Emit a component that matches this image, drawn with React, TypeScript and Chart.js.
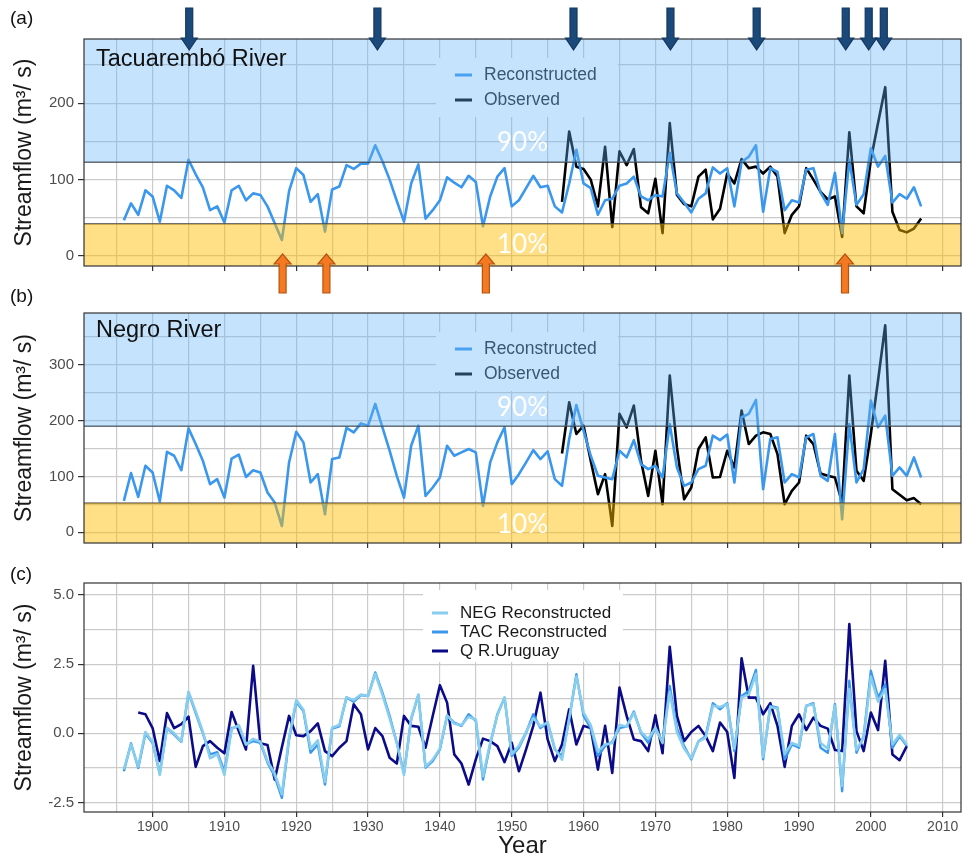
import React, { useEffect, useRef } from 'react';
import { Chart, registerables } from 'chart.js';

Chart.register(...registerables);

// ---------------- data ----------------
const RECON_START = 1896; // panels (a) and (b) reconstructions, 1896-2007
const OBS_START = 1957; // observed series, 1957-2007
const STD_START = 1896; // panel (c) standardized reconstructions, 1896-2005
const QURU_START = 1898; // Q R.Uruguay, 1898-2005

const TAC_RECON = [
  47, 69, 54, 86, 78, 45, 92, 86, 76, 126, // 1896-1905
  107, 90, 60, 65, 44, 86, 92, 73, 82, 80, // 1906-1915
  65, 43, 21, 85, 115, 106, 71, 81, 32, 87, // 1916-1925
  91, 119, 114, 121, 121, 145, 124, 100, 72, 45, // 1926-1935
  95, 120, 49, 60, 73, 103, 96, 90, 105, 97, // 1936-1945
  39, 78, 104, 115, 65, 73, 89, 105, 90, 92, // 1946-1955
  65, 57, 95, 139, 95, 89, 54, 73, 75, 92, // 1956-1965
  95, 104, 78, 73, 80, 78, 135, 82, 70, 57, // 1966-1975
  75, 82, 116, 108, 115, 65, 123, 130, 145, 58, // 1976-1985
  115, 110, 60, 73, 70, 113, 115, 83, 67, 109, // 1986-1995
  30, 126, 67, 81, 141, 117, 131, 70, 81, 75, // 1996-2005
  90, 65, // 2006-2007
];

const TAC_OBS = [
  71, 163, 117, 114, 100, 65, 143, 38, 137, 119, // 1957-1966
  140, 64, 56, 101, 30, 174, 80, 68, 65, 104, // 1967-1976
  113, 48, 62, 108, 95, 127, 115, 117, 108, 117, // 1977-1986
  104, 30, 54, 65, 115, 100, 84, 74, 78, 25, // 1987-1996
  162, 65, 56, 126, 174, 221, 58, 34, 31, 36, // 1997-2006
  49, // 2007
];

const NEG_RECON = [
  56, 106, 63, 119, 107, 55, 144, 137, 111, 186, // 1896-1905
  158, 128, 86, 95, 62, 132, 139, 99, 111, 107, // 1906-1915
  71, 53, 11, 125, 180, 161, 89, 104, 32, 131, // 1916-1925
  134, 187, 179, 195, 191, 230, 188, 146, 101, 62, // 1926-1935
  155, 191, 65, 80, 98, 155, 137, 143, 149, 143, // 1936-1945
  47, 125, 161, 188, 86, 104, 125, 147, 131, 145, // 1946-1955
  95, 83, 167, 228, 182, 137, 101, 98, 95, 146, // 1956-1965
  134, 165, 122, 113, 119, 98, 194, 116, 83, 89, // 1966-1975
  113, 119, 173, 165, 175, 89, 206, 212, 237, 77, // 1976-1985
  167, 170, 89, 104, 98, 170, 176, 101, 92, 176, // 1986-1995
  23, 194, 89, 113, 236, 188, 209, 101, 116, 101, // 1996-2005
  134, 98, // 2006-2007
];

const NEG_OBS = [
  141, 233, 176, 191, 128, 68, 104, 11, 212, 188, // 1957-1966
  227, 128, 65, 146, 50, 281, 152, 59, 80, 149, // 1967-1976
  170, 98, 99, 146, 116, 218, 158, 173, 179, 176, // 1977-1986
  140, 50, 74, 89, 173, 158, 105, 101, 98, 53, // 1987-1996
  281, 110, 92, 176, 272, 371, 77, 67, 57, 61, // 1997-2006
  50, // 2007
];

const NEG_STD = [
  -1.3, -0.4, -1.2, 0.05, -0.3, -1.5, 0.2, 0.0, -0.3, 1.5, // 1896-1905
  0.8, 0.05, -0.9, -0.75, -1.5, 0.15, 0.3, -0.4, -0.2, -0.3, // 1906-1915
  -1.0, -1.45, -2.2, -0.15, 1.2, 0.85, -0.55, -0.25, -1.75, 0.2, // 1916-1925
  0.3, 1.3, 1.2, 1.4, 1.35, 2.15, 1.4, 0.55, -0.35, -1.5, // 1926-1935
  0.55, 1.4, -1.2, -0.95, -0.55, 0.65, 0.35, 0.3, 0.6, 0.5, // 1936-1945
  -1.55, -0.35, 0.65, 1.3, -0.75, -0.45, 0.05, 0.55, 0.25, 0.4, // 1946-1955
  -0.55, -0.95, 0.55, 2.05, 0.75, 0.3, -0.65, -0.4, -0.35, 0.3, // 1956-1965
  0.25, 0.75, 0.05, -0.2, 0.2, -0.35, 1.5, 0.05, -0.55, -0.9, // 1966-1975
  -0.3, -0.15, 1.0, 0.95, 1.05, -0.55, 1.3, 1.4, 2.15, -0.85, // 1976-1985
  0.95, 0.9, -0.75, -0.35, -0.45, 1.0, 1.05, -0.35, -0.55, 1.0, // 1986-1995
  -1.9, 1.6, -0.6, -0.15, 2.05, 1.15, 1.6, -0.4, -0.05, -0.4, // 1996-2005
];

const TAC_STD = [
  -1.37, -0.36, -1.25, -0.01, -0.35, -1.43, 0.19, -0.05, -0.31, 1.47, // 1896-1905
  0.73, 0.0, -0.76, -0.68, -1.37, 0.19, 0.25, -0.4, -0.28, -0.34, // 1906-1915
  -1.06, -1.55, -2.33, -0.22, 1.13, 0.81, -0.7, -0.4, -1.85, 0.17, // 1916-1925
  0.25, 1.3, 1.14, 1.38, 1.35, 2.2, 1.47, 0.63, -0.34, -1.43, // 1926-1935
  0.51, 1.38, -1.24, -1.0, -0.58, 0.63, 0.39, 0.27, 0.69, 0.45, // 1936-1945
  -1.67, -0.4, 0.69, 1.29, -0.82, -0.52, 0.02, 0.69, 0.19, 0.39, // 1946-1955
  -0.58, -0.82, 0.51, 2.14, 0.63, 0.19, -0.82, -0.46, -0.3, 0.19, // 1956-1965
  0.25, 0.79, 0.02, -0.34, 0.19, -0.3, 1.71, 0.19, -0.46, -0.94, // 1966-1975
  -0.28, -0.1, 1.09, 0.87, 1.09, -0.64, 1.35, 1.53, 2.29, -0.94, // 1976-1985
  0.99, 0.93, -0.94, -0.4, -0.52, 0.99, 1.09, -0.52, -0.7, 1.05, // 1986-1995
  -2.09, 1.9, -0.7, -0.1, 2.26, 1.29, 1.77, -0.52, -0.1, -0.46, // 1996-2005
];

const Q_URUGUAY = [
  0.75, 0.69, 0.19, -1.0, 0.73, 0.19, 0.33, 0.6, -1.21, -0.46, // 1898-1907
  -0.28, -0.52, -0.72, 0.77, 0.08, -0.58, 2.44, -0.36, -0.42, -1.67, // 1908-1917
  -0.5, 0.63, -0.07, -0.1, 0.08, 0.36, -0.64, -0.82, -0.52, -0.28, // 1918-1927
  1.05, 0.69, -0.58, 0.19, -0.1, -0.88, -1.09, 0.63, 0.27, 0.24, // 1928-1937
  -0.52, 0.63, 1.74, 1.11, -0.76, -1.09, -1.85, -0.94, -0.19, -0.28, // 1938-1947
  -0.46, -1.04, -0.34, -1.37, -0.58, 0.27, 1.47, -0.22, -1.0, -0.4, // 1948-1957
  0.87, -0.4, 0.27, 0.19, -1.31, 0.27, -1.43, 1.65, 0.63, -0.22, // 1958-1967
  -0.28, -0.64, 0.65, -0.72, 3.13, 0.63, -0.28, 0.05, 0.27, -0.1, // 1968-1977
  -0.64, 0.39, 0.05, -1.61, 2.71, 1.29, 1.29, 0.69, 1.09, 0.27, // 1978-1987
  -1.21, 0.27, 0.69, 0.12, 0.57, 0.27, 0.17, -0.6, -0.64, 3.95, // 1988-1997
  0.08, -0.64, 0.75, 0.12, 2.62, -0.76, -0.97, -0.46, // 1998-2005
];

// thresholds (percentiles) per river
const TAC_P90 = 123;
const TAC_P10 = 42;
const NEG_P90 = 190;
const NEG_P10 = 52;

// annotation arrows (years)
const FLOOD_ARROW_YEARS = [1905.1, 1931.3, 1958.6, 1972.1, 1984.1, 1996.5, 1999.7, 2001.8];
const DROUGHT_ARROW_YEARS = [1918.1, 1924.2, 1946.4, 1996.4];
const PCT_LABEL_YEAR = 1951.5;

// axes
const X_MIN = 1890.45;
const X_MAX = 2012.55;
const X_GRID_YEARS = [1895, 1900, 1905, 1910, 1915, 1920, 1925, 1930, 1935, 1940, 1945, 1950, 1955, 1960, 1965, 1970, 1975, 1980, 1985, 1990, 1995, 2000, 2005, 2010];
const X_LABEL_YEARS = [1900, 1910, 1920, 1930, 1940, 1950, 1960, 1970, 1980, 1990, 2000, 2010];

const A_Y_GRID = [0, 50, 100, 150, 200, 250];
const A_Y_LABELS = [0, 100, 200];
const B_Y_GRID = [0, 50, 100, 150, 200, 250, 300, 350];
const B_Y_LABELS = [0, 100, 200, 300];
const C_Y_GRID = [-2.5, -1.25, 0, 1.25, 2.5, 3.75, 5];
const C_Y_LABELS = [-2.5, 0, 2.5, 5];

// ---------------- styles ----------------
const FONT = '"Liberation Sans", Arial, Helvetica, sans-serif';
const PCT_FONT = 'Lato, "Open Sans", sans-serif';
const GRID_COLOR = '#cbcbcb';
const AXIS_COLOR = '#333333';
const TICK_LABEL_COLOR = '#4d4d4d';
const RECON_COLOR = '#3a97ee';
const OBS_COLOR = '#000000';
const NEG_STD_COLOR = '#86cdee';
const TAC_STD_COLOR = '#3a97ee';
const QURU_COLOR = '#0b0b8a';
const BLUE_BAND = 'rgba(100,180,250,0.37)';
const ORANGE_BAND = 'rgba(255,190,0,0.47)';
const W = 966;
const Y_AXIS_W = 84;
const RIGHT_PAD = 5;

const toXY = (start: number, vals: number[]) => vals.map((v, i) => ({ x: start + i, y: v }));

function drawText(ctx: CanvasRenderingContext2D, s: string, x: number, y: number, font: string, color: string, align: CanvasTextAlign = 'left', baseline: CanvasTextBaseline = 'middle') {
  ctx.font = font;
  ctx.fillStyle = color;
  ctx.textAlign = align;
  ctx.textBaseline = baseline;
  ctx.fillText(s, x, y);
}

function arrow(ctx: CanvasRenderingContext2D, x: number, yTail: number, yHeadBase: number, yTip: number, shaftHalf: number, headHalf: number, fill: string, stroke: string) {
  ctx.beginPath();
  ctx.moveTo(x - shaftHalf, yTail);
  ctx.lineTo(x + shaftHalf, yTail);
  ctx.lineTo(x + shaftHalf, yHeadBase);
  ctx.lineTo(x + headHalf, yHeadBase);
  ctx.lineTo(x, yTip);
  ctx.lineTo(x - headHalf, yHeadBase);
  ctx.lineTo(x - shaftHalf, yHeadBase);
  ctx.closePath();
  ctx.fillStyle = fill;
  ctx.fill();
  ctx.lineWidth = 1.2;
  ctx.strokeStyle = stroke;
  ctx.stroke();
}

function xScale(showLabels: boolean, axisH: number) {
  return {
    type: 'linear',
    min: X_MIN,
    max: X_MAX,
    afterBuildTicks: (s: any) => {
      s.ticks = X_GRID_YEARS.map((v) => ({ value: v }));
    },
    afterFit: (s: any) => {
      s.height = axisH;
    },
    ticks: {
      display: showLabels,
      autoSkip: false,
      maxRotation: 0,
      minRotation: 0,
      padding: 2,
      font: { family: FONT, size: 14 },
      color: TICK_LABEL_COLOR,
      callback: (v: number) => (X_LABEL_YEARS.includes(v) ? String(v) : ''),
    },
    grid: {
      color: GRID_COLOR,
      lineWidth: 1.2,
      drawTicks: true,
      tickLength: 5,
      tickWidth: 1.2,
      tickColor: (c: any) => (c.tick && X_LABEL_YEARS.includes(c.tick.value) ? AXIS_COLOR : 'rgba(0,0,0,0)'),
    },
    border: { display: false },
    title: {
      display: showLabels,
      text: 'Year',
      font: { family: FONT, size: 24 },
      color: '#1a1a1a',
      padding: { top: 0, bottom: -2 },
    },
  };
}

function yScale(min: number, max: number, grid: number[], labels: number[], fmt: (v: number) => string) {
  return {
    min,
    max,
    afterBuildTicks: (s: any) => {
      s.ticks = grid.map((v) => ({ value: v }));
    },
    afterFit: (s: any) => {
      s.width = Y_AXIS_W;
    },
    ticks: {
      autoSkip: false,
      padding: 4,
      font: { family: FONT, size: 15 },
      color: TICK_LABEL_COLOR,
      callback: (v: number) => (labels.includes(v) ? fmt(v) : ''),
    },
    grid: {
      color: GRID_COLOR,
      lineWidth: 1.2,
      tickLength: 6,
      tickWidth: 1.2,
      tickColor: (c: any) => (c.tick && labels.includes(c.tick.value) ? AXIS_COLOR : 'rgba(0,0,0,0)'),
    },
    border: { display: false },
    title: {
      display: true,
      text: 'Streamflow (m³/ s)',
      font: { family: FONT, size: 23 },
      color: '#1a1a1a',
      padding: { top: 11, bottom: 0 },
    },
  };
}

type BandSpec = {
  letter: string;
  letterY: number;
  name: string;
  nameY: number;
  recon: number[];
  obs: number[];
  p90: number;
  p10: number;
  yMin: number;
  yMax: number;
  yGrid: number[];
  yLabels: number[];
  padTop: number;
  xAxisH: number;
  arrows: boolean;
};

function bandConfig(spec: BandSpec) {
  const plugin = {
    id: 'bands',
    afterDatasetsDraw(chart: any) {
      const { ctx, chartArea: a, scales } = chart;
      const y = scales.y;
      const x = scales.x;
      const y90 = y.getPixelForValue(spec.p90);
      const y10 = y.getPixelForValue(spec.p10);
      ctx.save();
      // legend (under the translucent band)
      ctx.fillStyle = '#ffffff';
      ctx.fillRect(436, a.top + 19, 182, 59);
      const lx = 455;
      const rows = [
        { label: 'Reconstructed', color: RECON_COLOR, yy: a.top + 36 },
        { label: 'Observed', color: OBS_COLOR, yy: a.top + 61 },
      ];
      for (const r of rows) {
        ctx.beginPath();
        ctx.moveTo(lx, r.yy);
        ctx.lineTo(lx + 17, r.yy);
        ctx.strokeStyle = r.color;
        ctx.lineWidth = 3;
        ctx.stroke();
        drawText(ctx, r.label, lx + 29, r.yy, `17.5px ${FONT}`, '#222222');
      }
      // percentile lines
      ctx.strokeStyle = '#3c3c3c';
      ctx.lineWidth = 1.3;
      for (const yy of [y90, y10]) {
        ctx.beginPath();
        ctx.moveTo(a.left, yy);
        ctx.lineTo(a.right, yy);
        ctx.stroke();
      }
      // bands
      ctx.fillStyle = BLUE_BAND;
      ctx.fillRect(a.left, a.top, a.right - a.left, y90 - a.top);
      ctx.fillStyle = ORANGE_BAND;
      ctx.fillRect(a.left, y10, a.right - a.left, a.bottom - y10);
      // labels
      const px = x.getPixelForValue(PCT_LABEL_YEAR);
      drawText(ctx, '90%', px, y90 - 19, `26px ${PCT_FONT}`, '#ffffff', 'center');
      drawText(ctx, '10%', px, y10 + 21, `26px ${PCT_FONT}`, '#ffffff', 'center');
      ctx.restore();
    },
    afterDraw(chart: any) {
      const { ctx, chartArea: a, scales } = chart;
      ctx.save();
      ctx.strokeStyle = AXIS_COLOR;
      ctx.lineWidth = 1.2;
      ctx.strokeRect(a.left, a.top, a.right - a.left, a.bottom - a.top);
      drawText(ctx, spec.name, 96, a.top + spec.nameY, `23.5px ${FONT}`, '#111111');
      drawText(ctx, spec.letter, 10, spec.letterY, `19px ${FONT}`, '#111111');
      if (spec.arrows) {
        const x = scales.x;
        for (const yr of FLOOD_ARROW_YEARS) {
          arrow(ctx, x.getPixelForValue(yr), 8, 38, 50, 3.5, 8, '#1b4a7a', '#12375e');
        }
        for (const yr of DROUGHT_ARROW_YEARS) {
          arrow(ctx, x.getPixelForValue(yr), 293, 264, 254, 3.5, 8.5, '#f47a22', '#b8520f');
        }
      }
      ctx.restore();
    },
  };
  return {
    type: 'line',
    data: {
      datasets: [
        { data: toXY(RECON_START, spec.recon), borderColor: RECON_COLOR, borderWidth: 2.6, pointRadius: 0, borderJoinStyle: 'round' },
        { data: toXY(OBS_START, spec.obs), borderColor: OBS_COLOR, borderWidth: 2.6, pointRadius: 0, borderJoinStyle: 'round' },
      ],
    },
    options: {
      responsive: false,
      animation: false,
      devicePixelRatio: 1,
      layout: { padding: { top: spec.padTop, right: RIGHT_PAD, left: 0, bottom: 0 } },
      plugins: { legend: { display: false }, tooltip: { enabled: false } },
      scales: {
        x: xScale(false, spec.xAxisH),
        y: yScale(spec.yMin, spec.yMax, spec.yGrid, spec.yLabels, (v) => String(v)),
      },
    },
    plugins: [plugin],
  };
}

function configC() {
  const plugin = {
    id: 'panelC',
    afterDatasetsDraw(chart: any) {
      const { ctx, chartArea: a } = chart;
      ctx.save();
      ctx.fillStyle = '#ffffff';
      ctx.fillRect(423, a.top + 7, 200, 72);
      const lx = 432;
      const rows = [
        { label: 'NEG Reconstructed', color: NEG_STD_COLOR, yy: a.top + 30 },
        { label: 'TAC Reconstructed', color: TAC_STD_COLOR, yy: a.top + 49 },
        { label: 'Q R.Uruguay', color: QURU_COLOR, yy: a.top + 68 },
      ];
      for (const r of rows) {
        ctx.beginPath();
        ctx.moveTo(lx, r.yy);
        ctx.lineTo(lx + 16, r.yy);
        ctx.strokeStyle = r.color;
        ctx.lineWidth = 3;
        ctx.stroke();
        drawText(ctx, r.label, lx + 28, r.yy, `17px ${FONT}`, '#1a1a1a');
      }
      ctx.restore();
    },
    afterDraw(chart: any) {
      const { ctx, chartArea: a } = chart;
      ctx.save();
      ctx.strokeStyle = AXIS_COLOR;
      ctx.lineWidth = 1.2;
      ctx.strokeRect(a.left, a.top, a.right - a.left, a.bottom - a.top);
      drawText(ctx, '(c)', 10, 15, `19px ${FONT}`, '#111111');
      ctx.restore();
    },
  };
  return {
    type: 'line',
    data: {
      datasets: [
        { data: toXY(STD_START, NEG_STD), borderColor: NEG_STD_COLOR, borderWidth: 2.6, pointRadius: 0, borderJoinStyle: 'round' },
        { data: toXY(STD_START, TAC_STD), borderColor: TAC_STD_COLOR, borderWidth: 2.4, pointRadius: 0, borderJoinStyle: 'round' },
        { data: toXY(QURU_START, Q_URUGUAY), borderColor: QURU_COLOR, borderWidth: 2.6, pointRadius: 0, borderJoinStyle: 'round' },
      ],
    },
    options: {
      responsive: false,
      animation: false,
      devicePixelRatio: 1,
      layout: { padding: { top: 23, right: RIGHT_PAD, left: 0, bottom: 0 } },
      plugins: { legend: { display: false }, tooltip: { enabled: false } },
      scales: {
        x: xScale(true, 47),
        y: yScale(-2.84, 5.43, C_Y_GRID, C_Y_LABELS, (v) => v.toFixed(1)),
      },
    },
    plugins: [plugin],
  };
}

function ChartCanvas({ top, height, make }: { top: number; height: number; make: () => any }) {
  const ref = useRef<HTMLCanvasElement | null>(null);
  useEffect(() => {
    if (!ref.current) return;
    const chart = new Chart(ref.current, make());
    return () => chart.destroy();
  }, []);
  return (
    <canvas
      ref={ref}
      width={W}
      height={height}
      style={{ position: 'absolute', left: 0, top, width: W, height, display: 'block' }}
    />
  );
}

export default function App() {
  useEffect(() => {
    document.body.style.margin = '0';
    document.body.style.background = '#ffffff';
  }, []);
  return (
    <div style={{ position: 'relative', width: W, height: 859, background: '#ffffff', overflow: 'hidden' }}>
      <ChartCanvas
        top={0}
        height={300}
        make={() =>
          bandConfig({
            letter: '(a)',
            letterY: 19,
            name: 'Tacuarembó River',
            nameY: 21,
            recon: TAC_RECON,
            obs: TAC_OBS,
            p90: TAC_P90,
            p10: TAC_P10,
            yMin: -13,
            yMax: 284,
            yGrid: A_Y_GRID,
            yLabels: A_Y_LABELS,
            padTop: 39,
            xAxisH: 34,
            arrows: true,
          })
        }
      />
      <ChartCanvas
        top={285}
        height={275}
        make={() =>
          bandConfig({
            letter: '(b)',
            letterY: 12,
            name: 'Negro River',
            nameY: 18,
            recon: NEG_RECON,
            obs: NEG_OBS,
            p90: NEG_P90,
            p10: NEG_P10,
            yMin: -19.5,
            yMax: 393,
            yGrid: B_Y_GRID,
            yLabels: B_Y_LABELS,
            padTop: 28,
            xAxisH: 17,
            arrows: false,
          })
        }
      />
      <ChartCanvas top={560} height={299} make={configC} />
    </div>
  );
}
